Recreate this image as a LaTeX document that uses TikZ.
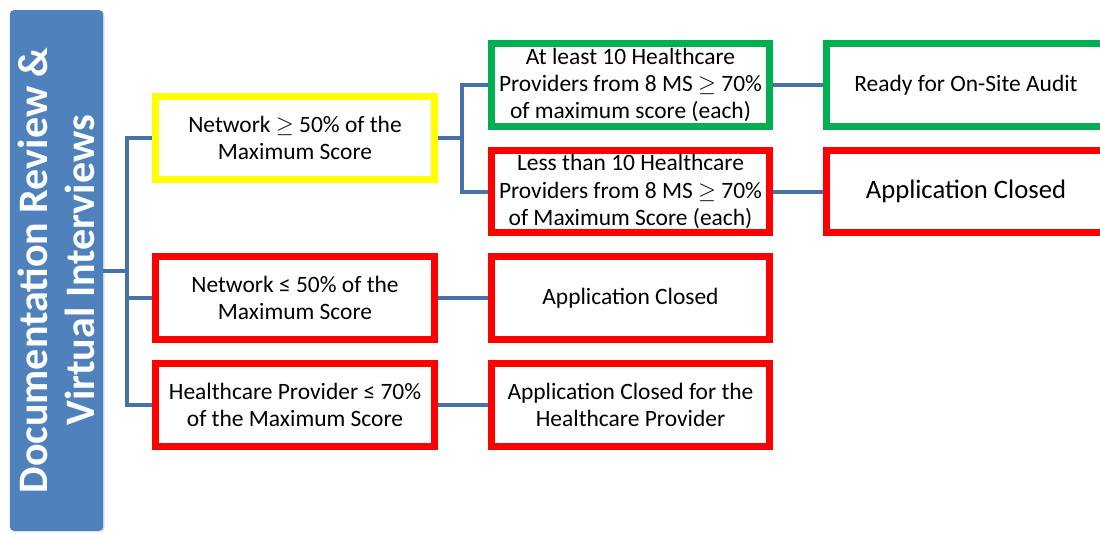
\documentclass[tikz,border=0pt]{standalone}
\usepackage{amsmath}
\usepackage{amssymb}
\usepackage{fontspec}
\setmainfont{Carlito}
\usetikzlibrary{shadows}

\definecolor{barblue}{RGB}{79,129,189}
\definecolor{linkblue}{RGB}{70,114,170}
\definecolor{okgreen}{RGB}{0,176,80}
\definecolor{failred}{RGB}{255,0,0}
\definecolor{warnyellow}{RGB}{255,255,0}

\tikzset{
  box/.style={draw, fill=white, line width=5.4pt, minimum width=209pt, minimum height=62pt,
    align=center, inner sep=1pt, font=\fontsize{17.6}{20.6}\selectfont,
    drop shadow={opacity=0.3, shadow xshift=1.2pt, shadow yshift=-1.5pt}},
  link/.style={draw=linkblue, line width=3pt},
}

\begin{document}
\begin{tikzpicture}[x=0.75pt,y=-0.75pt]
\useasboundingbox (0,0) rectangle (1100,533);

% Side Bar
\node [fill=barblue, rounded corners=3pt, rotate=90, minimum width=390.5pt, minimum height=70pt,
  text=white, align=center, font=\bfseries\fontsize{31.5}{35}\selectfont, inner sep=0pt,
  drop shadow={opacity=0.25, shadow xshift=1pt, shadow yshift=-1pt}]
  (bar) at (56.5,270.5) {Documentation Review \&\\Virtual Interviews};

% First Level
\node [box, draw=warnyellow] (netok) at (295,138) {Network $\geq$ 50\% of the\\Maximum Score};
\node [box, draw=failred] (netlow) at (295,298) {Network ≤ 50\% of the\\Maximum Score};
\node [box, draw=failred] (hplow) at (295,405) {Healthcare Provider ≤ 70\%\\of the Maximum Score};

% Second Level
\node [box, draw=okgreen] (tenok) at (630.5,85) {At least 10 Healthcare\\Providers from 8 MS $\geq$ 70\%\\of maximum score (each)};
\node [box, draw=failred] (tenlow) at (630.5,191.5) {Less than 10 Healthcare\\Providers from 8 MS $\geq$ 70\%\\of Maximum Score (each)};
\node [box, draw=failred] (netclosed) at (630.5,298) {Application Closed};
\node [box, draw=failred] (hpclosed) at (630.5,405) {Application Closed for the\\Healthcare Provider};

% Third Level
\node [box, draw=okgreen] (ready) at (966,85) {Ready for On-Site Audit};
\node [box, draw=failred, font=\fontsize{20}{22}\selectfont] (tenclosed) at (966,191.5) {Application Closed};

% Straight Lines
\coordinate (trunk) at (127,270.5);
\coordinate (split) at (462,138);
\draw [link] (bar.south) -- (trunk);
\draw [link] (trunk) |- (netok.west);
\draw [link] (trunk) |- (netlow.west);
\draw [link] (trunk) |- (hplow.west);
\draw [link] (netok.east) -- (split);
\draw [link] (split) |- (tenok.west);
\draw [link] (split) |- (tenlow.west);
\draw [link] (tenok.east) -- (ready.west);
\draw [link] (tenlow.east) -- (tenclosed.west);
\draw [link] (netlow.east) -- (netclosed.west);
\draw [link] (hplow.east) -- (hpclosed.west);

\end{tikzpicture}
\end{document}
